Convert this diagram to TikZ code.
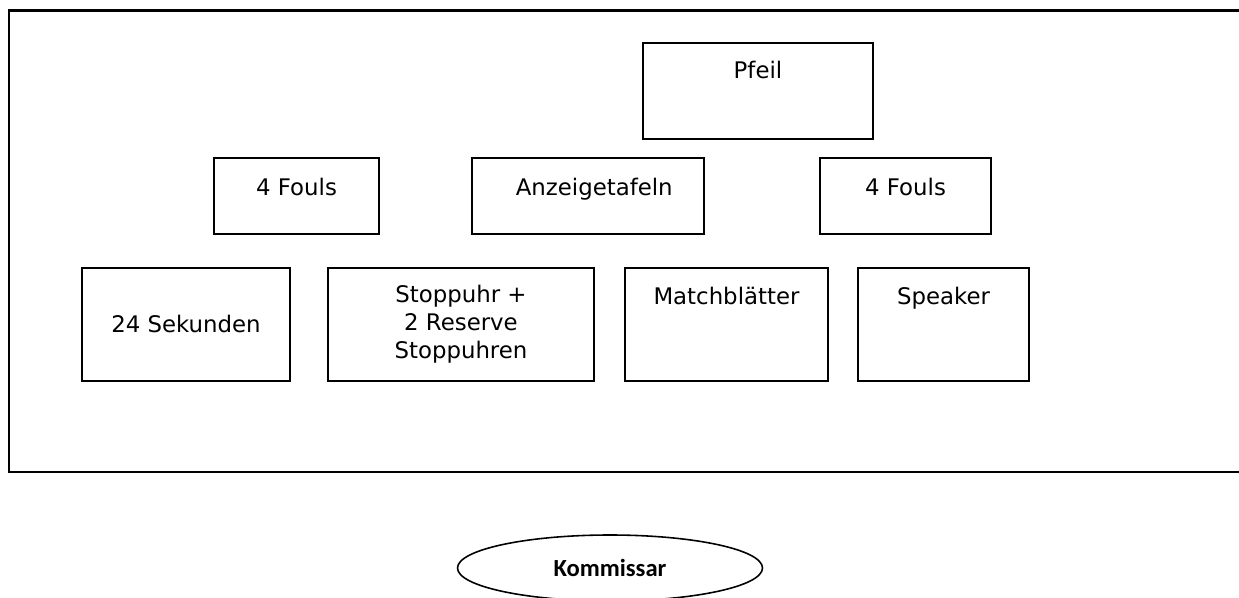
\documentclass[tikz,border=0pt]{standalone}
\usepackage{fontspec}
\setmainfont{DejaVu Sans}
\newfontfamily\kommfont{Carlito}
\usetikzlibrary{shapes.geometric}
\tikzset{
  feld/.style={rectangle, draw=black, line width=1.1pt, anchor=north west, inner xsep=0pt, inner ysep=0pt, text centered, font=\fontsize{13}{16}\selectfont},
  rahmen/.style={draw=black, line width=1.7pt},
  komm/.style={ellipse, draw=black, line width=0.9pt, inner sep=0pt, minimum width=6.1cm, minimum height=1.32cm, font=\kommfont\bfseries\fontsize{14}{16}\selectfont}
}
\begin{document}
\begin{tikzpicture}
    \useasboundingbox (0,0) rectangle (24.78,-11.96);
    \draw [rahmen] (0.18,-0.22) rectangle (25.2,-9.44);

    % obere Reihe
    \node (pfeil) [feld, minimum width=4.6cm, text height=0.72cm, text depth=1.2cm] at (12.84,-0.84) {Pfeil};
    \node (foulsL) [feld, minimum width=3.3cm, text height=0.76cm, text depth=0.76cm] at (4.26,-3.14) {4 Fouls};
    \node (tafeln) [feld, minimum width=4.64cm, text height=0.76cm, text depth=0.76cm] at (9.42,-3.14) {\hspace{0.25cm}Anzeigetafeln};
    \node (foulsR) [feld, minimum width=3.42cm, text height=0.76cm, text depth=0.76cm] at (16.38,-3.14) {4 Fouls\hspace{0.25cm}};

    % untere Reihe
    \node (sek) [feld, minimum width=4.16cm, minimum height=2.26cm, align=center] at (1.62,-5.34) {24 Sekunden};
    \node (uhr) [feld, minimum width=5.32cm, minimum height=2.26cm, align=center] at (6.54,-5.34) {Stoppuhr +\\2 Reserve\\Stoppuhren};
    \node (match) [feld, minimum width=4.06cm, text height=0.74cm, text depth=1.52cm] at (12.48,-5.34) {Matchblätter};
    \node (speaker) [feld, minimum width=3.42cm, text height=0.74cm, text depth=1.52cm] at (17.14,-5.34) {Speaker};

    \node (kommissar) [komm] at (12.2,-11.36) {Kommissar};
\end{tikzpicture}
\end{document}
